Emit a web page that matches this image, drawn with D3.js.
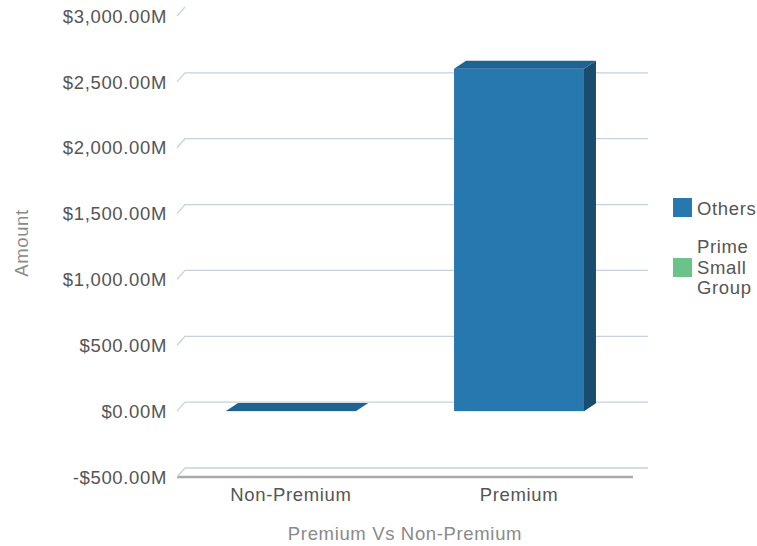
<!DOCTYPE html>
<html><head><meta charset="utf-8">
<script src="https://cdn.jsdelivr.net/npm/d3@7"></script>
<style>
html,body{margin:0;padding:0;background:#fff;}
svg{display:block;font-family:"Liberation Sans",Arial,sans-serif;}
svg text{letter-spacing:0.65px;}
</style></head>
<body>
<svg id="chart" width="757" height="546"></svg>
<script>
// ---- data ----
const categories = ["Non-Premium", "Premium"];
const seriesNames = ["Others", "Prime Small Group"];
const othersValues = [2, 2600];          // in $M
const primeSmallGroupValues = [null, null];
const tickValues = [-500, 0, 500, 1000, 1500, 2000, 2500, 3000];
const xAxisTitle = "Premium Vs Non-Premium";
const yAxisTitle = "Amount";

// ---- layout ----
const svg = d3.select("#chart");
const frontLeft = 177, frontRight = 633;
const wallDx = 8, wallDy = -9, gridEnd = 648;
const barDx = 12, barDy = -8;
const colors = {front: "#2878b0", top: "#1f6394", side: "#1a4c6d"};
const legendColors = ["#2878b0", "#6bc387"];

const y = d3.scaleLinear().domain([-500, 3000]).range([477, 16]);
const x = d3.scaleBand().domain(categories).range([frontLeft, frontRight])
  .paddingInner(0.43).paddingOuter(0.215);

const fmt = d3.format(",.2f");
const tickLabel = v => (v < 0 ? "-$" : "$") + fmt(Math.abs(v)) + "M";

// floor
const yb = y(-500);
svg.append("line").attr("x1", frontLeft).attr("x2", frontRight).attr("y1", yb).attr("y2", yb)
  .attr("stroke", "#a9a9a9").attr("stroke-width", 2.5);

// gridlines
const grid = svg.append("g");
tickValues.forEach(v => {
  const yf = y(v);
  const horiz = v === 3000 ? "" : ` L${gridEnd},${yf + wallDy}`;
  grid.append("path")
    .attr("d", `M${frontLeft},${yf} L${frontLeft + wallDx},${yf + wallDy}${horiz}`)
    .attr("fill", "none").attr("stroke", "#c7d2dc").attr("stroke-width", 1.3);
});

// tick labels
svg.append("g").selectAll("text").data(tickValues).join("text")
  .attr("x", 167).attr("y", d => y(d)).attr("dy", "0.36em")
  .attr("text-anchor", "end").attr("font-size", 18.5).attr("fill", "#555")
  .text(tickLabel);

// bars
const bars = svg.append("g");
categories.forEach((c, i) => {
  const v = othersValues[i];
  if (v == null) return;
  const x0 = x(c), x1 = x(c) + x.bandwidth();
  const y0 = y(0), yt = y(v);
  const top = Math.min(y0, yt), bot = Math.max(y0, yt);
  bars.append("path")
    .attr("d", `M${x1},${top} L${x1 + barDx},${top + barDy} L${x1 + barDx},${bot + barDy} L${x1},${bot} Z`)
    .attr("fill", colors.side);
  bars.append("rect").attr("x", x0).attr("y", top).attr("width", x1 - x0).attr("height", Math.max(0, bot - top))
    .attr("fill", colors.front);
  bars.append("path")
    .attr("d", `M${x0},${top} L${x0 + barDx},${top + barDy} L${x1 + barDx},${top + barDy} L${x1},${top} Z`)
    .attr("fill", colors.top);
});

// category labels
svg.append("g").selectAll("text").data(categories).join("text")
  .attr("x", d => x(d) + x.bandwidth() / 2).attr("y", 494).attr("dy", "0.36em")
  .attr("text-anchor", "middle").attr("font-size", 18.5).attr("fill", "#555")
  .text(d => d);

// axis titles
svg.append("text").attr("x", 405).attr("y", 533).attr("dy", "0.36em")
  .attr("text-anchor", "middle").attr("font-size", 18.5).attr("fill", "#8a8a8a")
  .text(xAxisTitle);
svg.append("text").attr("transform", "translate(21,243) rotate(-90)").attr("dy", "0.36em")
  .attr("text-anchor", "middle").attr("font-size", 18.5).attr("fill", "#8a8a8a")
  .text(yAxisTitle);

// legend
const legend = svg.append("g");
const legendItems = [
  {name: seriesNames[0], lines: ["Others"], sy: 198, ty: [208]},
  {name: seriesNames[1], lines: ["Prime", "Small", "Group"], sy: 258, ty: [246, 267, 287]}
];
legendItems.forEach((it, i) => {
  legend.append("rect").attr("x", 673).attr("y", it.sy).attr("width", 19).attr("height", 19)
    .attr("fill", legendColors[i]);
  it.lines.forEach((ln, j) => {
    legend.append("text").attr("x", 697).attr("y", it.ty[j]).attr("dy", "0.36em")
      .attr("font-size", 18.5).attr("fill", "#555").text(ln);
  });
});
</script>
</body></html>
